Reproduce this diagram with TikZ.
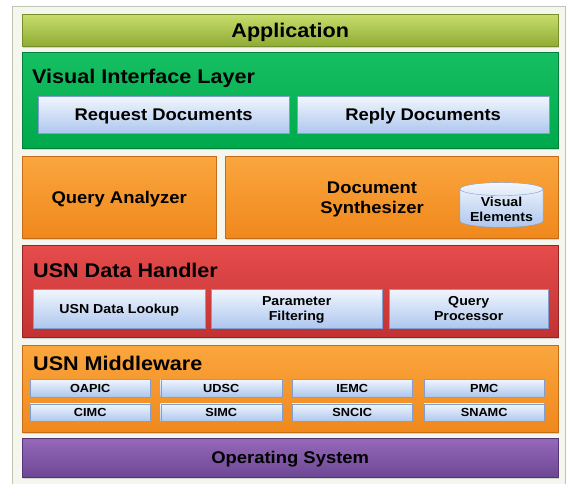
\documentclass[tikz,border=0pt]{standalone}
\usepackage{fontspec}
\setmainfont[FakeStretch=1.09]{Liberation Sans}
\usetikzlibrary{shapes.geometric,shadows}

\definecolor{framefill}{RGB}{245,247,239}
\definecolor{frameline}{RGB}{190,198,178}
\definecolor{apptop}{RGB}{200,221,108}
\definecolor{appbot}{RGB}{143,172,52}
\definecolor{appline}{RGB}{118,142,44}
\definecolor{viltop}{RGB}{22,192,98}
\definecolor{vilbot}{RGB}{0,168,76}
\definecolor{villine}{RGB}{0,128,60}
\definecolor{ortop}{RGB}{250,166,62}
\definecolor{orbot}{RGB}{240,136,28}
\definecolor{orline}{RGB}{196,108,22}
\definecolor{redtop}{RGB}{230,76,76}
\definecolor{redbot}{RGB}{194,50,50}
\definecolor{redline}{RGB}{152,36,36}
\definecolor{ostop}{RGB}{150,104,186}
\definecolor{osbot}{RGB}{108,72,148}
\definecolor{osline}{RGB}{84,54,120}
\definecolor{parttop}{RGB}{241,246,253}
\definecolor{partbot}{RGB}{174,199,238}
\definecolor{partline}{RGB}{128,158,208}

\newcommand\lyrbig{\fontsize{19.8}{22}\selectfont\bfseries}
\newcommand\lyrmid{\fontsize{16.9}{20}\selectfont\bfseries}
\newcommand\lyrsmall{\fontsize{13}{15}\selectfont\bfseries}
\newcommand\lyrtiny{\fontsize{11.7}{13}\selectfont\bfseries}

\tikzset{
  layer/.style={anchor=north west, inner sep=0pt, text depth=0pt, draw=#1line, top color=#1top, bottom color=#1bot,
    drop shadow={shadow xshift=1pt, shadow yshift=-1.5pt, opacity=0.3}},
  part/.style={anchor=north west, inner sep=1pt, text depth=0pt, align=center, draw=partline, top color=parttop,
    bottom color=partbot, drop shadow={shadow xshift=1pt, shadow yshift=-1.2pt, opacity=0.3}},
  title/.style={anchor=west, inner sep=0pt, text depth=0pt, font=\lyrbig},
}

\begin{document}
\begin{tikzpicture}[x=1pt,y=-1pt]
\useasboundingbox (0,0) rectangle (568,483);
\draw[draw=frameline, fill=framefill] (12,6) rectangle (565,495);

% application
\node[layer=app, minimum width=536pt, minimum height=32pt, font=\lyrbig] (app) at (22,14) {Application};

% visual interface layer
\node[layer=vil, minimum width=536pt, minimum height=96pt] (vil) at (22,52) {};
\node[title] (vilT) at (32,76) {Visual Interface Layer};
\node[part, minimum width=251pt, minimum height=37pt, font=\lyrmid] (req) at (38,96) {Request Documents};
\node[part, minimum width=252pt, minimum height=37pt, font=\lyrmid] (rep) at (297,96) {Reply Documents};

% query analyzer and document synthesizer
\node[layer=or, minimum width=194pt, minimum height=82pt, font=\lyrmid] (qa) at (22,156) {Query Analyzer};
\node[layer=or, minimum width=333pt, minimum height=82pt] (ds) at (225,156) {};
\node[align=center, font=\lyrmid, inner sep=0pt] (dsT) at (372,199) {Document\\Synthesizer};
\node[cylinder, shape border rotate=90, aspect=0.2, draw=partline, top color=parttop, bottom color=partbot,
  minimum width=83pt, minimum height=40pt, align=center, inner sep=1pt, font=\lyrsmall] (ve) at (501.5,209) {Visual\\Elements};

% usn data handler
\node[layer=red, minimum width=536pt, minimum height=92pt] (dh) at (22,245) {};
\node[title] (dhT) at (33,270) {USN Data Handler};
\node[part, minimum width=172pt, minimum height=39pt, font=\lyrsmall] (look) at (33,289) {USN Data Lookup};
\node[part, minimum width=171pt, minimum height=39pt, font=\lyrsmall] (filt) at (211,289) {Parameter\\Filtering};
\node[part, minimum width=159pt, minimum height=39pt, font=\lyrsmall] (qp) at (389,289) {Query\\Processor};

% usn middleware
\node[layer=or, minimum width=536pt, minimum height=87pt] (mw) at (22,345) {};
\node[title] (mwT) at (33,363) {USN Middleware};
\node[part, minimum width=120pt, minimum height=17.5pt, font=\lyrtiny, inner sep=0pt] (oapic) at (30,379) {OAPIC};
\node[part, minimum width=121pt, minimum height=17.5pt, font=\lyrtiny, inner sep=0pt] (udsc) at (160.5,379) {UDSC};
\node[part, minimum width=120pt, minimum height=17.5pt, font=\lyrtiny, inner sep=0pt] (iemc) at (292,379) {IEMC};
\node[part, minimum width=120pt, minimum height=17.5pt, font=\lyrtiny, inner sep=0pt] (pmc) at (424,379) {PMC};
\node[part, minimum width=120pt, minimum height=17.5pt, font=\lyrtiny, inner sep=0pt] (cimc) at (30,403.5) {CIMC};
\node[part, minimum width=121pt, minimum height=17.5pt, font=\lyrtiny, inner sep=0pt] (simc) at (160.5,403.5) {SIMC};
\node[part, minimum width=120pt, minimum height=17.5pt, font=\lyrtiny, inner sep=0pt] (sncic) at (292,403.5) {SNCIC};
\node[part, minimum width=120pt, minimum height=17.5pt, font=\lyrtiny, inner sep=0pt] (snamc) at (424,403.5) {SNAMC};

% operating system
\node[layer=os, minimum width=536pt, minimum height=39pt, font=\lyrmid] (os) at (22,438) {Operating System};
\end{tikzpicture}
\end{document}
